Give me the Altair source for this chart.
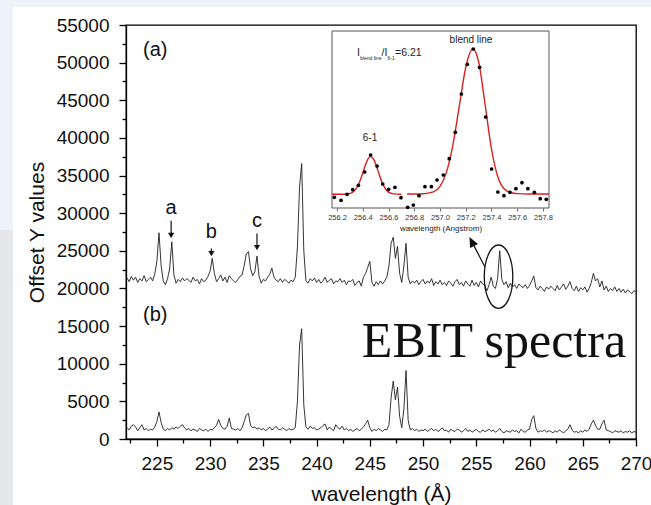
import altair as alt
import pandas as pd

# ---------------- main spectra (wavelength grid 222.2 .. 270.0, step 0.2 A) ----------------
wl_start = 222.2
wl_step = 0.2
spec_a = [
    21400, 20900, 21600, 21100, 21500, 20800, 21300, 21000, 21700, 20900,
    21200, 21500, 21000, 21900, 23600, 27400, 23000, 21000, 20500, 21300,
    22600, 26200, 21800, 20700, 21200, 20900, 21400, 21000, 21300, 21100,
    20800, 21500, 21000, 21200, 20600, 21300, 20900, 21100, 21600, 22300,
    24000, 22000, 20900, 21300, 21800, 21000, 21500, 20800, 21700, 21300,
    21000, 20800, 21200, 21600, 21800, 23000, 24600, 24900, 22600, 21700,
    22200, 24300, 21600, 20700, 21200, 21000, 21500, 21900, 22700, 21500,
    21100, 20900, 21300, 20800, 21200, 21000, 20700, 21100, 20900, 21500,
    25500, 33500, 36600, 25000, 21000, 20700, 21300, 21000, 21400, 20800,
    21200, 20700, 21000, 21500, 20800, 21100, 21300, 20600, 21000, 20900,
    21300, 20800, 21100, 20500, 21000, 20900, 21200, 20400, 20800, 21000,
    20300, 21500, 22000, 22800, 23600, 20800, 20300, 20900, 20500, 21000,
    20600, 21000, 21500, 23000, 26000, 26800, 24000, 25600, 22000, 20800,
    23000, 26000, 21500, 20600, 21000, 20700, 21100, 20500, 20900, 21200,
    20600, 21000, 20700, 21300, 20400, 20900, 20600, 21100, 20500, 20800,
    20400, 21000, 20700, 20300, 20900, 21200, 20500, 20800, 20300, 21000,
    20600, 20300, 21100, 20400, 20800, 20200, 21000, 20600, 20400, 19700,
    20500, 21500, 20300, 20000, 21300, 25000, 21200, 20500, 20900, 20100,
    20700, 20200, 20500, 20000, 20600, 20300, 20100, 20500, 20000, 20400,
    21000, 21650, 20100, 19800, 20300, 20000, 19600, 20200, 19900, 20300,
    20000, 19700, 20400, 19800, 20200, 20600, 19900, 20300, 20900, 20000,
    19700, 20300, 19600, 20100, 19800, 20200, 19500, 20000, 20800, 22000,
    21000, 21300, 20200, 21000, 19800, 20300, 19600, 20000, 19700, 20200,
    19600, 20000, 19500, 19900, 19400, 19800, 19600, 19300, 19700, 19600,
]
spec_b = [
    1500, 1200, 1700, 1900, 1600, 1100, 1500, 1900, 1200, 1400,
    1100, 1300, 1200, 1600, 2300, 3600, 2200, 1300, 1100, 1400,
    1200, 1500, 1300, 1600, 1400, 1700, 1900, 1500, 1200, 1400,
    1100, 1300, 1200, 1000, 1400, 1200, 1100, 1300, 1000, 1300,
    1200, 1500, 1800, 2600, 1800, 1400, 1300, 1700, 2800, 1400,
    1300, 1200, 1400, 1100, 1500, 2300, 3200, 3400, 1800, 1500,
    1600, 1300, 1500, 1200, 1400, 1100, 1300, 1600, 1200, 1400,
    1700, 1300, 1200, 1500, 1300, 1100, 1400, 1200, 1300, 1500,
    5000, 12500, 14650, 4500, 1600, 1300, 1700, 1400, 1500, 1200,
    1300, 1500, 1800, 2000, 1200, 1600, 1300, 1100, 1900, 1500,
    1300, 1700, 1200, 1400, 1100, 1300, 1000, 1200, 1400, 1100,
    1300, 1600, 2000, 2500, 1500, 1000, 1300, 1100, 1400, 1200,
    1000, 1300, 1200, 1900, 5500, 7700, 5200, 6900, 3000, 1500,
    4000, 9100, 2500, 1200, 1400, 1100, 1300, 1000, 1200, 1100,
    1300, 1000, 1200, 1400, 1100, 1300, 1000, 1200, 1500, 1100,
    1200, 900, 1300, 1100, 1000, 1300, 1200, 900, 1100, 1400,
    1000, 1200, 900, 1100, 1300, 1000, 900, 1200, 1000, 1100,
    1300, 1000, 1200, 900, 1100, 1400, 1000, 800, 1100, 1000,
    900, 1200, 1000, 1100, 800, 1300, 1000, 900, 1200, 1300,
    2600, 3100, 1400, 900, 1100, 1000, 1200, 900, 1100, 1000,
    800, 1100, 900, 1200, 1000, 800, 1100, 1300, 1900, 1200,
    900, 1000, 800, 1100, 900, 1200, 1000, 1300, 2000, 2500,
    1800, 1300, 1300, 2000, 2500, 1200, 1100, 1000, 800, 1100,
    1000, 900, 1100, 800, 1000, 900, 1100, 800, 1000, 900,
]
wavelength = [round(wl_start + wl_step * i, 1) for i in range(len(spec_a))]

x_ticks = [222.5, 225, 227.5, 230, 232.5, 235, 237.5, 240, 242.5, 245, 247.5,
           250, 252.5, 255, 257.5, 260, 262.5, 265, 267.5, 270]
y_ticks = [0, 2500, 5000, 7500, 10000, 12500, 15000, 17500, 20000, 22500, 25000,
           27500, 30000, 32500, 35000, 37500, 40000, 42500, 45000, 47500, 50000,
           52500, 55000]
x_domain = [222.1, 270]
y_domain = [0, 55000]

# annotations (main panel, data coordinates)
panel_labels = ["(a)", "(b)"]
panel_x = [223.7, 223.7]
panel_y = [51680, 16470]

peak_labels = ["a", "b", "c"]
peak_x = [226.34, 230.12, 234.4]
peak_label_y = [30700, 27500, 29000]
arrow_top = [29000, 25300, 27300]
arrow_head = [27030, 24630, 25430]

ebit_text = ["EBIT spectra"]
ebit_x = [244.25]
ebit_y = [10890]

ellipse_x = [257.09]
ellipse_y = [21560]

link_x = [255.11]
link_y = [24777]
link_angle = [332.6]

# ---------------- inset data ----------------
inset_x_domain = [256.161, 257.847]
inset_y_domain = [0, 17700]
inset_ticks = [256.2, 256.4, 256.6, 256.8, 257.0, 257.2, 257.4, 257.6, 257.8]
pt_x = [256.179, 256.231, 256.278, 256.322, 256.366, 256.415, 256.461, 256.511, 256.555,
        256.601, 256.650, 256.697, 256.749, 256.793, 256.837, 256.883, 256.933, 256.977,
        257.026, 257.072, 257.119, 257.166, 257.212, 257.259, 257.308, 257.355, 257.401,
        257.450, 257.497, 257.544, 257.590, 257.637, 257.683, 257.733, 257.779, 257.826]
pt_y = [1070, 770, 1370, 1830, 2270, 3600, 5300, 4200, 2400,
        1870, 2070, 1030, 70, 300, 1230, 2130, 2130, 2800,
        3300, 4930, 7570, 11400, 14370, 15900, 14070, 9100, 3900,
        1600, 1230, 1570, 1930, 2530, 1930, 1570, 930, 870]
fit1_x = [256.161, 256.25, 256.30, 256.34, 256.37, 256.40, 256.42, 256.44, 256.46,
          256.48, 256.50, 256.52, 256.55, 256.58, 256.62, 256.66, 256.70]
fit1_y = [1370, 1375, 1446, 1784, 2444, 3506, 4278, 4886, 5140,
          4973, 4420, 3663, 2566, 1847, 1463, 1385, 1370]
fit2_x = [256.745, 256.85, 256.95, 257.00, 257.05, 257.10, 257.15, 257.20, 257.255,
          257.30, 257.35, 257.40, 257.45, 257.50, 257.55, 257.60, 257.70, 257.847]
fit2_y = [1400, 1400, 1610, 2160, 3560, 6280, 10190, 14050, 15900,
          14630, 10400, 5900, 3100, 1900, 1550, 1440, 1400, 1400]

inset_lab_text = ["blend line", "6-1"]
inset_lab_x = [257.241, 256.456]
inset_lab_y = [16800, 7000]

ratio_text = ["I", "blend line", "/I", "6-1", "=6.21"]
ratio_x = [256.3553, 256.3786, 256.5456, 256.5922, 256.6505]
ratio_y = [15500, 15000, 15500, 15000, 15500]
ratio_fs = [10.5, 5, 10.5, 5, 10.5]

# ---------------- build frames ----------------
n = len(spec_a)
spec_df = pd.DataFrame({
    "wavelength": wavelength * 2,
    "counts": spec_a + spec_b,
    "series": ["a"] * n + ["b"] * n,
})

FONT = "Liberation Sans"
xs = alt.Scale(domain=x_domain, nice=False, zero=False)
ys = alt.Scale(domain=y_domain, nice=False)

x_axis = alt.Axis(
    values=x_ticks, title="wavelength (Å)", labelExpr="datum.value % 5 === 0 ? datum.label : ''",
    tickSize={"condition": {"test": "datum.value % 5 === 0", "value": 7}, "value": 4},
    labelFontSize=19, titleFontSize=21, labelPadding=8, titlePadding=10, grid=False,
    labelFlush=False, labelOverlap=False, labelFont=FONT,
)
y_axis = alt.Axis(
    values=y_ticks, title="Offset Y values",
    labelExpr="datum.value % 5000 === 0 ? datum.label : ''",
    tickSize={"condition": {"test": "datum.value % 5000 === 0", "value": 7}, "value": 4},
    labelFontSize=19, titleFontSize=21, labelPadding=10, titlePadding=9, grid=False, format="d",
    labelFlush=False, labelOverlap=False, labelFont=FONT,
)


def X(field):
    return alt.X(field, scale=xs, axis=x_axis)


def Y(field):
    return alt.Y(field, scale=ys, axis=y_axis)


spectra = alt.Chart(spec_df).mark_line(color="#1e1e1e", strokeWidth=0.9, clip=True).encode(
    x=X("wavelength:Q"), y=Y("counts:Q"), detail="series:N")

# background strips outside the panel
bg_top = alt.Chart(pd.DataFrame({"k": [0]})).mark_rect(color="#eef2f9").encode(
    x=alt.value(-126), x2=alt.value(525), y=alt.value(-25), y2=alt.value(-18))
bg_left1 = alt.Chart(pd.DataFrame({"k": [0]})).mark_rect(color="#eef2f9").encode(
    x=alt.value(-126), x2=alt.value(-113), y=alt.value(-25), y2=alt.value(205))
bg_left2 = alt.Chart(pd.DataFrame({"k": [0]})).mark_rect(color="#e5e7ea").encode(
    x=alt.value(-126), x2=alt.value(-113), y=alt.value(205), y2=alt.value(480))

panel_df = pd.DataFrame({"x": panel_x, "y": panel_y, "t": panel_labels})
panel_txt = alt.Chart(panel_df).mark_text(align="left", baseline="middle", fontSize=20,
                                           font=FONT, color="#111").encode(
    x=X("x:Q"), y=Y("y:Q"), text="t:N")

peak_df = pd.DataFrame({"x": peak_x, "ly": peak_label_y, "top": arrow_top,
                        "head": arrow_head, "t": peak_labels})
peak_txt = alt.Chart(peak_df).mark_text(align="center", baseline="middle", fontSize=20,
                                         font=FONT, color="#111").encode(
    x=X("x:Q"), y=Y("ly:Q"), text="t:N")
peak_stem = alt.Chart(peak_df).mark_rule(color="#111", strokeWidth=1.2).encode(
    x=X("x:Q"), y=Y("top:Q"), y2="head:Q")
peak_head = alt.Chart(peak_df).mark_point(shape="triangle-down", filled=True, size=38,
                                           color="#111", opacity=1).encode(
    x=X("x:Q"), y=Y("head:Q"))

ebit_df = pd.DataFrame({"x": ebit_x, "y": ebit_y, "t": ebit_text})
ebit = alt.Chart(ebit_df).mark_text(align="left", baseline="alphabetic", fontSize=50,
                                     font="Liberation Serif", color="#111").encode(
    x=X("x:Q"), y=Y("y:Q"), text="t:N")

ell_df = pd.DataFrame({"x": ellipse_x, "y": ellipse_y})
ellipse = alt.Chart(ell_df).mark_point(
    shape="M -0.45 0 A 0.45 1 0 1 0 0.45 0 A 0.45 1 0 1 0 -0.45 0 Z",
    filled=False, size=4020, color="#111", strokeWidth=1.3, opacity=1).encode(
    x=X("x:Q"), y=Y("y:Q"))

link_df = pd.DataFrame({"x": link_x, "y": link_y, "a": link_angle})
link = alt.Chart(link_df).mark_point(
    shape="M 0 -1 L -0.22 -0.5 L 0.22 -0.5 Z M 0 -0.5 L 0 1",
    filled=True, fill="#111", stroke="#111", strokeWidth=1.2, size=1024, opacity=1).encode(
    x=X("x:Q"), y=Y("y:Q"), angle=alt.Angle("a:Q", scale=None))

main = alt.layer(bg_top, bg_left1, bg_left2, spectra, panel_txt, peak_stem, peak_head,
                 peak_txt, ebit, ellipse, link)

# ---------------- inset ----------------
ixs = alt.Scale(domain=inset_x_domain, range=[206, 423], nice=False, zero=False)
iys = alt.Scale(domain=inset_y_domain, range=[183, 6], nice=False, zero=False)

inset_axis = alt.Axis(orient="bottom", offset=-231, values=inset_ticks, format=".1f",
                      title="wavelength (Angstrom)", labelFontSize=7.5, titleFontSize=8,
                      titleFontWeight="normal", labelColor="#333", titleColor="#222",
                      tickSize=3, tickWidth=0.8, tickColor="#444", domain=False,
                      labelPadding=2, titlePadding=4, grid=False, labelFlush=False,
                      labelOverlap=False, zindex=2)


def IX(field):
    return alt.X(field, scale=ixs, axis=inset_axis)


def IY(field):
    return alt.Y(field, scale=iys, axis=None)


frame_df = pd.DataFrame({"x": [inset_x_domain[0]], "x2": [inset_x_domain[1]],
                         "y": [inset_y_domain[0]], "y2": [inset_y_domain[1]]})
frame = alt.Chart(frame_df).mark_rect(fill="white", stroke="#555", strokeWidth=1).encode(
    x=IX("x:Q"), x2="x2:Q", y=IY("y:Q"), y2="y2:Q")

fit_df = pd.DataFrame({"x": fit1_x + fit2_x, "y": fit1_y + fit2_y,
                       "seg": ["s1"] * len(fit1_x) + ["s2"] * len(fit2_x)})
fit = alt.Chart(fit_df).mark_line(color="#d9201f", strokeWidth=1.4, interpolate="monotone").encode(
    x=IX("x:Q"), y=IY("y:Q"), detail="seg:N")

pts_df = pd.DataFrame({"x": pt_x, "y": pt_y})
pts = alt.Chart(pts_df).mark_circle(size=14, color="#000", opacity=1).encode(
    x=IX("x:Q"), y=IY("y:Q"))

ilab_df = pd.DataFrame({"x": inset_lab_x, "y": inset_lab_y, "t": inset_lab_text})
ilab = alt.Chart(ilab_df).mark_text(align="center", baseline="middle", fontSize=10,
                                     font=FONT, color="#222").encode(
    x=IX("x:Q"), y=IY("y:Q"), text="t:N")

ratio_df = pd.DataFrame({"x": ratio_x, "y": ratio_y, "t": ratio_text, "fs": ratio_fs})
ratio = alt.Chart(ratio_df).mark_text(align="left", baseline="middle", font=FONT,
                                       color="#222").encode(
    x=IX("x:Q"), y=IY("y:Q"), text="t:N", size=alt.Size("fs:Q", scale=None, legend=None))

inset = alt.layer(frame, fit, pts, ilab, ratio)

chart = alt.layer(main, inset).resolve_scale(x="independent", y="independent").properties(
    width=510, height=414,
    autosize=alt.AutoSizeParams(type="none"),
    padding={"left": 126, "top": 25, "right": 15, "bottom": 66},
    background="white",
).configure_view(stroke="#000", strokeWidth=1.3).configure_axis(
    labelFont=FONT, titleFont=FONT, titleFontWeight="normal", domainColor="#000",
    domainWidth=1.3, tickColor="#000", tickWidth=1.3, labelColor="#111", titleColor="#111",
)

chart.save("out.html", embed_options={"renderer": "svg", "actions": False})
